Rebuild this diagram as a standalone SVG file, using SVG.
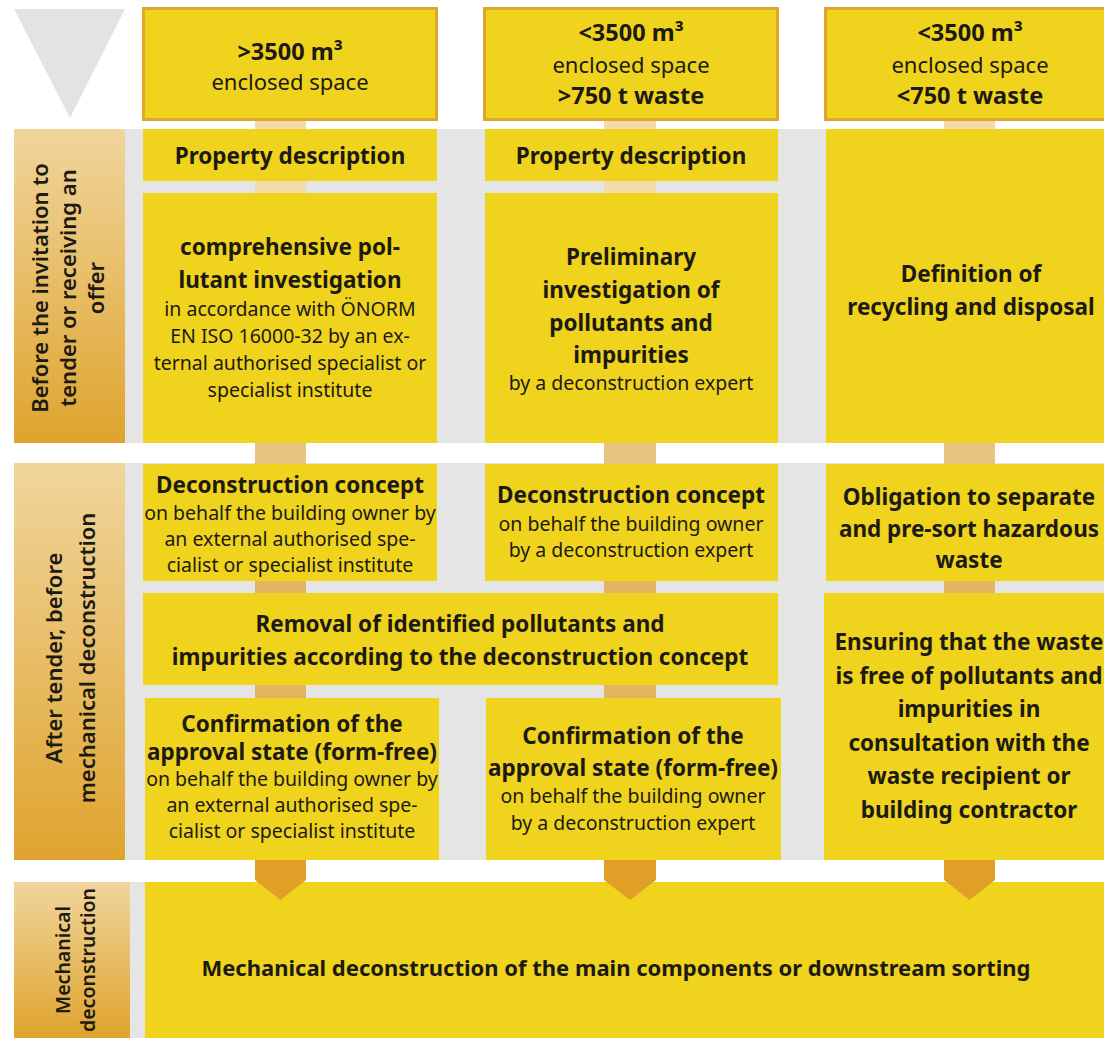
<svg xmlns="http://www.w3.org/2000/svg" width="1104" height="1038" viewBox="0 0 1104 1038">
<defs>
<linearGradient id="lab" x1="0" y1="0" x2="0" y2="1">
<stop offset="0" stop-color="#f0d59c"/>
<stop offset="1" stop-color="#dfa42e"/>
</linearGradient>
<style>
.box{fill:#efd31d}
.hdr{fill:#efd31d;stroke:#e0a52c;stroke-width:3}
.band{fill:#e5e5e5}
.lab{fill:url(#lab)}
.cl{fill:#f1dcaa}
.cm{fill:#e7c482}
.cd{fill:#e3b563}
.arr{fill:#e0a028}
text{font-family:"Noto Sans","Open Sans","DejaVu Sans",sans-serif;fill:#1c1a12;text-anchor:middle}
.b{font-weight:700;font-size:22.5px}
.bl{font-weight:700;font-size:22px}
.r{font-weight:400;font-size:19.5px}
.hb{font-weight:700;font-size:23.5px}
.hr{font-weight:400;font-size:22px}
.sl{font-weight:600;font-size:22px}
.ss{font-weight:600;font-size:19.5px}
</style>
</defs>
<rect width="1104" height="1038" fill="#ffffff"/>
<g id="bands">
<rect class="band" x="125" y="129" width="979" height="314"/>
<rect class="band" x="125" y="463" width="979" height="397"/>
<rect class="band" x="130" y="882" width="15" height="156"/>
</g>
<g id="start-triangle"><polygon points="14,9 125,9 70,118" fill="#e3e3e3"/></g>
<g id="label-before"><rect class="lab" x="14" y="129" width="111" height="314"/>
<text class="sl" transform="translate(48,288) rotate(-90)">Before the invitation to</text>
<text class="sl" transform="translate(76,288) rotate(-90)">tender or receiving an</text>
<text class="sl" transform="translate(104,288) rotate(-90)">offer</text></g>
<g id="label-after"><rect class="lab" x="14" y="463" width="111" height="397"/>
<text class="sl" transform="translate(62,658) rotate(-90)">After tender, before</text>
<text class="sl" transform="translate(95,658) rotate(-90)">mechanical deconstruction</text></g>
<g id="label-mech"><rect class="lab" x="14" y="882" width="116" height="156"/>
<text class="ss" transform="translate(70,960) rotate(-90)">Mechanical</text>
<text class="ss" transform="translate(95,960) rotate(-90)">deconstruction</text></g>
<g id="connectors">
<rect class="cl" x="255" y="121" width="51" height="8"/>
<rect class="cl" x="604" y="121" width="52" height="8"/>
<rect class="cl" x="944" y="121" width="51" height="8"/>
<rect class="cl" x="255" y="181" width="51" height="12"/>
<rect class="cl" x="604" y="181" width="52" height="12"/>
<rect class="cm" x="255" y="443" width="51" height="21"/>
<rect class="cm" x="604" y="443" width="52" height="21"/>
<rect class="cm" x="944" y="443" width="51" height="21"/>
<rect class="cd" x="255" y="581" width="51" height="12"/>
<rect class="cd" x="604" y="581" width="52" height="12"/>
<rect class="cd" x="944" y="581" width="51" height="12"/>
<rect class="cd" x="255" y="685" width="51" height="13"/>
<rect class="cd" x="604" y="685" width="52" height="13"/>
</g>
<g id="hdr1"><rect class="hdr" x="143.5" y="8.5" width="293" height="111"/>
<text class="hb" x="290" y="60">&gt;3500 m³</text>
<text class="hr" x="290" y="90">enclosed space</text></g>
<g id="hdr2"><rect class="hdr" x="484.5" y="8.5" width="293" height="111"/>
<text class="hb" x="631" y="41">&lt;3500 m³</text>
<text class="hr" x="631" y="73">enclosed space</text>
<text class="hb" x="631" y="104">&gt;750 t waste</text></g>
<g id="hdr3"><rect class="hdr" x="825.5" y="8.5" width="300" height="111"/>
<text class="hb" x="970" y="41">&lt;3500 m³</text>
<text class="hr" x="970" y="73">enclosed space</text>
<text class="hb" x="970" y="104">&lt;750 t waste</text></g>
<g id="prop1"><rect class="box" x="143" y="129" width="294" height="52"/>
<text class="b" x="290" y="164">Property description</text></g>
<g id="prop2"><rect class="box" x="485" y="129" width="293" height="52"/>
<text class="b" x="631" y="164">Property description</text></g>
<g id="investig1"><rect class="box" x="143" y="193" width="294" height="250"/>
<text class="b" x="290" y="255">comprehensive pol-</text>
<text class="b" x="290" y="288">lutant investigation</text>
<text class="r" x="290" y="316">in accordance with ÖNORM</text>
<text class="r" x="290" y="343">EN ISO 16000-32 by an ex-</text>
<text class="r" x="290" y="370">ternal authorised specialist or</text>
<text class="r" x="290" y="397">specialist institute</text></g>
<g id="investig2"><rect class="box" x="485" y="193" width="293" height="250"/>
<text class="b" x="631" y="265">Preliminary</text>
<text class="b" x="631" y="298">investigation of</text>
<text class="b" x="631" y="331">pollutants and</text>
<text class="b" x="631" y="363">impurities</text>
<text class="r" x="631" y="390">by a deconstruction expert</text></g>
<g id="definition3"><rect class="box" x="826" y="129" width="290" height="314"/>
<text class="b" x="971" y="282">Definition of</text>
<text class="b" x="971" y="315">recycling and disposal</text></g>
<g id="concept1"><rect class="box" x="143" y="464" width="294" height="117"/>
<text class="b" x="290" y="493">Deconstruction concept</text>
<text class="r" x="290" y="520">on behalf the building owner by</text>
<text class="r" x="290" y="546">an external authorised spe-</text>
<text class="r" x="290" y="572">cialist or specialist institute</text></g>
<g id="concept2"><rect class="box" x="485" y="464" width="293" height="117"/>
<text class="b" x="631" y="503">Deconstruction concept</text>
<text class="r" x="631" y="531">on behalf the building owner</text>
<text class="r" x="631" y="557">by a deconstruction expert</text></g>
<g id="obligation3"><rect class="box" x="826" y="464" width="290" height="117"/>
<text class="b" x="969" y="505">Obligation to separate</text>
<text class="b" x="969" y="537">and pre-sort hazardous</text>
<text class="b" x="969" y="568">waste</text></g>
<g id="removal"><rect class="box" x="143" y="593" width="635" height="92"/>
<text class="b" x="460" y="632">Removal of identified pollutants and</text>
<text class="b" x="460" y="665">impurities according to the deconstruction concept</text></g>
<g id="ensuring3"><rect class="box" x="824" y="593" width="292" height="267"/>
<text class="b" x="969" y="650">Ensuring that the waste</text>
<text class="b" x="969" y="684">is free of pollutants and</text>
<text class="b" x="969" y="717">impurities in</text>
<text class="b" x="969" y="751">consultation with the</text>
<text class="b" x="969" y="784">waste recipient or</text>
<text class="b" x="969" y="818">building contractor</text></g>
<g id="confirm1"><rect class="box" x="145" y="698" width="294" height="162"/>
<text class="b" x="292" y="732">Confirmation of the</text>
<text class="b" x="292" y="760">approval state (form-free)</text>
<text class="r" x="292" y="786">on behalf the building owner by</text>
<text class="r" x="292" y="812">an external authorised spe-</text>
<text class="r" x="292" y="838">cialist or specialist institute</text></g>
<g id="confirm2"><rect class="box" x="486" y="698" width="295" height="162"/>
<text class="b" x="633" y="744">Confirmation of the</text>
<text class="b" x="633" y="776">approval state (form-free)</text>
<text class="r" x="633" y="803">on behalf the building owner</text>
<text class="r" x="633" y="830">by a deconstruction expert</text></g>
<g id="mechanical"><rect class="box" x="145" y="882" width="959" height="156"/>
<text class="bl" x="616" y="976">Mechanical deconstruction of the main components or downstream sorting</text></g>
<g id="arrows">
<polygon class="arr" points="255,860 306,860 306,880 280.5,900 255,880"/>
<polygon class="arr" points="604,860 656,860 656,880 630,900 604,880"/>
<polygon class="arr" points="944,860 995,860 995,880 969.5,900 944,880"/>
</g>
</svg>
